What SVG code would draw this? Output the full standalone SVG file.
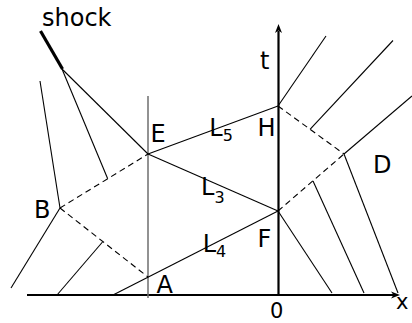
<svg xmlns="http://www.w3.org/2000/svg" width="412" height="323" viewBox="0 0 412 323">
<style>
text{font-family:"DejaVu Sans","Liberation Sans",sans-serif;font-size:24px;fill:#000}
.sub{font-size:16px}
.axl{font-size:21px}
.l{stroke:#000;stroke-width:1.1;fill:none}
.d{stroke:#000;stroke-width:1.1;fill:none;stroke-dasharray:6 4}
.ax{stroke:#000;stroke-width:2.2;fill:none}
</style>
<rect width="412" height="323" fill="#fff"/>
<g id="axes">
<line class="ax" x1="27" y1="295" x2="394" y2="295"/>
<path d="M400,295 L391,291.5 L393.5,295 L391,298.5 Z" fill="#000"/>
<line class="ax" x1="278.5" y1="296" x2="278.5" y2="31"/>
<path d="M278.5,24 L282,33 L278.5,30.5 L275,33 Z" fill="#000"/>
<line x1="148" y1="96" x2="148" y2="298" stroke="#6e6e6e" stroke-width="1.5"/>
<line x1="40.5" y1="31" x2="62.5" y2="69" stroke="#000" stroke-width="3.2"/>
</g>
<g id="connectors">
<line class="l" x1="62" y1="69" x2="148" y2="154"/>
<line class="l" x1="62" y1="69" x2="107.7" y2="178.7"/>
<line class="l" x1="40" y1="81" x2="60" y2="208"/>
<line class="l" x1="60" y1="208" x2="11" y2="288"/>
<line class="l" x1="57" y1="295" x2="102.5" y2="242"/>
<line class="l" x1="113" y1="295" x2="278" y2="211"/>
<line class="l" x1="148" y1="154" x2="278" y2="211"/>
<line class="l" x1="148" y1="154" x2="278" y2="106"/>
<line class="l" x1="278" y1="106" x2="326" y2="36"/>
<line class="l" x1="310" y1="129.3" x2="393" y2="40.5"/>
<line class="l" x1="344" y1="154" x2="412" y2="96"/>
<line class="l" x1="278" y1="211" x2="332" y2="293"/>
<line class="l" x1="313" y1="181" x2="364" y2="293"/>
<line class="l" x1="344" y1="154" x2="398" y2="293"/>
<line class="d" x1="60" y1="208" x2="148" y2="154"/>
<line class="d" x1="60" y1="208" x2="148" y2="277"/>
<line class="d" x1="278" y1="106" x2="344" y2="154"/>
<line class="d" x1="278" y1="211" x2="344" y2="154"/>
</g>
<g id="shock"><text x="42" y="26">shock</text></g>
<g id="t-label"><text x="260" y="69">t</text></g>
<g id="x-label"><text class="axl" x="396" y="309">x</text></g>
<g id="origin"><text class="axl" x="270" y="318">0</text></g>
<g id="E"><text x="150.5" y="141.5">E</text></g>
<g id="H"><text x="257.5" y="136">H</text></g>
<g id="F"><text x="257.5" y="246.5">F</text></g>
<g id="A"><text x="156.5" y="292.5">A</text></g>
<g id="B"><text x="34" y="217.5">B</text></g>
<g id="D"><text x="373" y="173">D</text></g>
<g id="L5"><text x="209.3" y="135.5">L<tspan class="sub" dy="5">5</tspan></text></g>
<g id="L3"><text x="201" y="195">L<tspan class="sub" dy="8">3</tspan></text></g>
<g id="L4"><text x="202.7" y="251.5">L<tspan class="sub" dy="5.5">4</tspan></text></g>
</svg>
